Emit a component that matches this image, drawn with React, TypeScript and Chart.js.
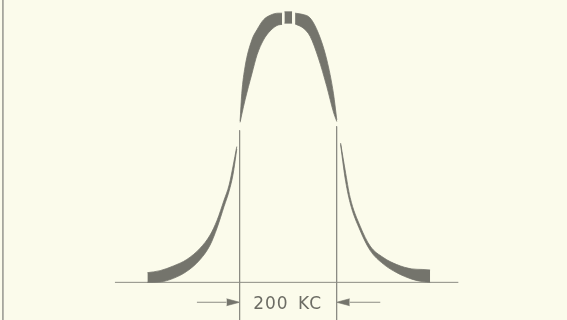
import React, { useEffect, useRef } from "react";
import { Chart, registerables } from "chart.js";

Chart.register(...registerables);

type Pair = [number, number];

// x: frequency offset from resonance (kc), y: relative response (peak = 1)
const leftSkirtUpper: Pair[] = [[-290.1, 0.036], [-263.9, 0.0435], [-236.5, 0.061], [-208.9, 0.085], [-181.4, 0.127], [-160.8, 0.176], [-146.4, 0.231], [-132.0, 0.306], [-121.6, 0.362], [-113.4, 0.433], [-105.8, 0.505]];
const leftSkirtLower: Pair[] = [[-290.1, 0], [-263.9, 0.0015], [-236.5, 0.015], [-208.9, 0.041], [-181.4, 0.085], [-160.8, 0.139], [-146.4, 0.203], [-132.0, 0.283], [-121.6, 0.34], [-113.4, 0.403], [-105.8, 0.496]];

const leftShoulderUpper: Pair[] = [[-99.0, 0.6], [-95.5, 0.703], [-88.7, 0.802], [-74.8, 0.901], [-63.9, 0.94], [-50.9, 0.976], [-37.1, 0.993], [-20.6, 1.001], [-12.4, 1.001]];
const leftShoulderLower: Pair[] = [[-99.0, 0.595], [-95.5, 0.625], [-88.7, 0.679], [-74.8, 0.775], [-63.9, 0.847], [-50.9, 0.901], [-37.1, 0.935], [-20.6, 0.957], [-12.4, 0.959]];

const crestUpper: Pair[] = [[-7.6, 1.006], [8.2, 1.006]];
const crestLower: Pair[] = [[-7.6, 0.964], [8.2, 0.964]];

const rightShoulderUpper: Pair[] = [[14.4, 1.001], [30.9, 0.996], [45.4, 0.983], [62.5, 0.926], [79.8, 0.827], [93.4, 0.703], [100.4, 0.604]];
const rightShoulderLower: Pair[] = [[14.4, 0.961], [30.9, 0.946], [45.4, 0.915], [62.5, 0.834], [79.8, 0.728], [93.4, 0.634], [100.4, 0.598]];

const rightSkirtUpper: Pair[] = [[108.2, 0.518], [117.5, 0.418], [127.8, 0.316], [148.5, 0.209], [169.1, 0.135], [196.5, 0.092], [224.1, 0.066], [255.1, 0.05], [276.3, 0.048], [292.8, 0.046]];
const rightSkirtLower: Pair[] = [[108.2, 0.513], [117.5, 0.388], [127.8, 0.296], [148.5, 0.193], [169.1, 0.119], [196.5, 0.068], [224.1, 0.036], [255.1, 0.012], [276.3, 0.003], [292.8, 0]];

// Reference lines
const baseline: Pair[] = [[-357, 0], [351, 0]];
const leftMarker: Pair[] = [[-100, 0.565], [-100, -0.14]];
const rightMarker: Pair[] = [[100, 0.58], [100, -0.14]];
const frameLine: Pair[] = [[-588, 1.05], [-588, -0.14]];

// Bandwidth arrows
const leftArrowShaft: Pair[] = [[-188, -0.074], [-127, -0.074]];
const leftArrowHeadUpper: Pair[] = [[-127, -0.061], [-100, -0.074]];
const leftArrowHeadLower: Pair[] = [[-127, -0.087], [-100, -0.074]];
const rightArrowShaft: Pair[] = [[127, -0.074], [190, -0.074]];
const rightArrowHeadUpper: Pair[] = [[100, -0.074], [127, -0.061]];
const rightArrowHeadLower: Pair[] = [[100, -0.074], [127, -0.087]];

const bandwidthLabel = "200 KC";
const labelPosition: Pair = [-1, -0.1];

const xRange: Pair = [-594, 575];
const yRange: Pair = [-0.14, 1.05];

const BG = "#fbfbeb";
const BAND = "#74746c";
const LINE = "#8c8c84";
const FRAME = "#9c9c94";
const LABEL = "#6c6c64";

const pts = (p: Pair[]) => p.map(([x, y]) => ({ x, y }));

const edge = (p: Pair[], extra: any = {}) => ({
  data: pts(p),
  pointRadius: 0,
  borderWidth: 0.8,
  borderColor: BAND,
  backgroundColor: BAND,
  cubicInterpolationMode: "monotone",
  fill: false,
  ...extra,
});

const band = (upper: Pair[], lower: Pair[]) => [edge(upper, { fill: "+1" }), edge(lower)];

const rule = (p: Pair[], color = LINE, width = 1) => ({
  data: pts(p),
  pointRadius: 0,
  borderWidth: width,
  borderColor: color,
  backgroundColor: color,
  fill: false,
});

const head = (upper: Pair[], lower: Pair[]) => [
  { ...rule(upper, BAND, 0.6), fill: "+1" },
  rule(lower, BAND, 0.6),
];

export default function App() {
  const ref = useRef<HTMLCanvasElement>(null);

  useEffect(() => {
    const canvas = ref.current;
    if (!canvas) return;

    const labelPlugin = {
      id: "bandLabel",
      afterDatasetsDraw(chart: any) {
        const { ctx, scales } = chart;
        ctx.save();
        ctx.font = '17px "DejaVu Sans"';
        try {
          (ctx as any).letterSpacing = "1px";
          (ctx as any).wordSpacing = "3px";
        } catch (e) {}
        ctx.fillStyle = LABEL;
        ctx.textAlign = "center";
        ctx.textBaseline = "alphabetic";
        ctx.fillText(
          bandwidthLabel,
          scales.x.getPixelForValue(labelPosition[0]),
          scales.y.getPixelForValue(labelPosition[1])
        );
        ctx.restore();
      },
    };

    const datasets: any[] = [
      ...band(leftSkirtUpper, leftSkirtLower),
      ...band(leftShoulderUpper, leftShoulderLower),
      ...band(crestUpper, crestLower),
      ...band(rightShoulderUpper, rightShoulderLower),
      ...band(rightSkirtUpper, rightSkirtLower),
      rule(baseline),
      rule(leftMarker),
      rule(rightMarker),
      rule(frameLine, FRAME, 1.6),
      rule(leftArrowShaft),
      rule(rightArrowShaft),
      ...head(leftArrowHeadUpper, leftArrowHeadLower),
      ...head(rightArrowHeadUpper, rightArrowHeadLower),
    ];

    const chart = new Chart(canvas, {
      type: "line",
      data: { datasets },
      options: {
        responsive: false,
        animation: false,
        events: [],
        layout: { padding: 0 },
        plugins: {
          legend: { display: false },
          tooltip: { enabled: false },
        },
        scales: {
          x: { type: "linear", min: xRange[0], max: xRange[1], display: false },
          y: { type: "linear", min: yRange[0], max: yRange[1], display: false },
        },
      },
      plugins: [labelPlugin],
    } as any);

    return () => chart.destroy();
  }, []);

  return (
    <div
      style={{
        position: "fixed",
        left: 0,
        top: 0,
        width: 567,
        height: 320,
        background: BG,
      }}
    >
      <canvas ref={ref} width={567} height={320} style={{ display: "block" }} />
    </div>
  );
}
